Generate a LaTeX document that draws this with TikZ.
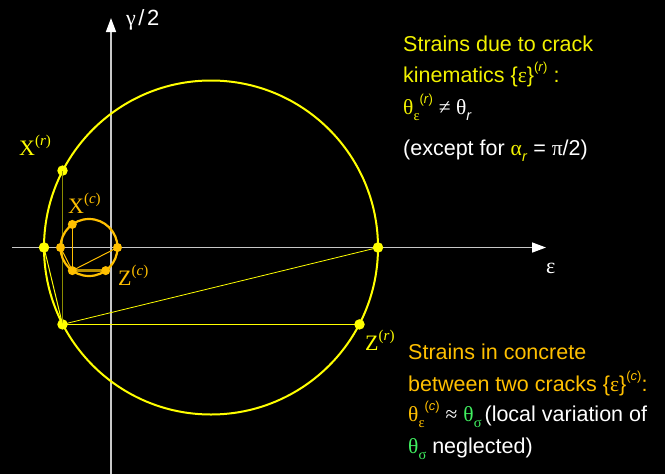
\documentclass[tikz,border=0pt]{standalone}
\usepackage{fontspec}
\setmainfont{Liberation Sans}
\newfontfamily\gr{Liberation Serif}
\usetikzlibrary{arrows.meta}
\definecolor{yel}{HTML}{FFFF00}
\definecolor{txtyel}{HTML}{F2F200}
\definecolor{org}{HTML}{FFC000}
\definecolor{dorg}{HTML}{B89000}
\definecolor{grn}{HTML}{40F060}
\definecolor{olv}{HTML}{8C8C00}
\definecolor{axgray}{HTML}{C8C8C8}
\newcommand{\hi}[1]{\raisebox{0.5em}{\fontsize{13}{13}\selectfont #1}}
\newcommand{\lo}[1]{\raisebox{-0.3em}{\fontsize{14.5}{14}\selectfont #1}}
\newcommand{\lhi}[1]{\raisebox{0.45em}{\fontsize{15}{15}\selectfont #1}}
\begin{document}
\begin{tikzpicture}[x=1pt,y=-1pt,
  txt/.style={anchor=base west,inner sep=0pt,font=\fontsize{21.5}{24}\selectfont},
  lbl/.style={anchor=base west,inner sep=0pt,font=\gr\fontsize{22}{24}\selectfont},
  axis/.style={axgray,line width=1.5pt,-{Triangle[length=14pt,width=10pt,color=white]}},
  bigdot/.style={circle,fill=yel,inner sep=0pt,minimum size=10.5pt},
  smalldot/.style={circle,fill=org,inner sep=0pt,minimum size=9pt},
]
\fill[black] (0,0) rectangle (665,474);
% axes
\coordinate (xs) at (12,247.5);
\coordinate (xe) at (546,247.5);
\coordinate (ys) at (111,474);
\coordinate (ye) at (111,18);
\draw[axis] (xs) -- (xe);
\draw[axis] (ys) -- (ye);
% big circle (cracks)
\coordinate (C) at (211,247.5);
\draw[yel,line width=2pt] (C) circle[radius=167pt];
\node[bigdot] (L) at (44,247.5) {};
\node[bigdot] (R) at (378,247.5) {};
\node[bigdot] (X) at (62.5,170.6) {};
\node[bigdot] (P) at (62.5,324.4) {};
\node[bigdot] (Z) at (359.5,324.4) {};
\draw[olv,line width=1.5pt] (P.center) -- (X.center);
\draw[yel,line width=1pt] (P.center) -- (Z.center);
\draw[yel,line width=0.8pt] (P.center) -- (R.center);
\draw[yel,line width=1pt] (P.center) -- (L.center);
% small circle (concrete)
\coordinate (c) at (89,247.5);
\draw[org,line width=2.2pt] (c) circle[radius=28.5pt];
\draw[dorg,line width=2.5pt] (72.3,270.6) coordinate (pc0) -- (105.7,270.6) coordinate (zc0);
\node[smalldot] (Lc) at (60.5,247.5) {};
\node[smalldot] (Rc) at (117.5,247.5) {};
\node[smalldot] (Xc) at (72.3,224.4) {};
\node[smalldot] (Pc) at (pc0) {};
\node[smalldot] (Zc) at (zc0) {};
\draw[org,line width=1.2pt] (Pc.center) -- (Xc.center);
\draw[org,line width=1pt] (Pc.center) -- (Rc.center);
\draw[org,line width=1pt] (Pc.center) -- (Lc.center);
% axis labels
\node[txt,white,font=\fontsize{22}{24}\selectfont] (gl) at (126,25) {{\gr γ}\kern2.5pt/\kern2.5pt2};
\node[lbl,white] (el) at (546,273) {ε};
% point labels
\node[lbl,yel] (Xl) at (19,155) {X\lhi{(\textit{r})}};
\node[lbl,org] (Xcl) at (68,213) {X\lhi{(\textit{c})}};
\node[lbl,org] (Zcl) at (118,285) {Z\lhi{(\textit{c})}};
\node[lbl,yel] (Zl) at (365,350) {Z\lhi{(\textit{r})}};
% top text
\node[txt,txtyel] (t1) at (403,51.5) {Strains due to crack};
\node[txt,txtyel] (t2) at (403,82.5) {kinematics \{{\gr ε}\}\hi{(\textit{r})} :};
\node[txt,white] (t3) at (403,114) {\textcolor{txtyel}{{\gr θ}\lo{\gr ε}\hi{(\textit{r})}} {\gr ≠ θ}\lo{\textit{r}}};
\node[txt,white] (t4) at (403,155) {(except for \textcolor{txtyel}{{\gr α}\lo{\textit{r}}} = {\gr π}/2)};
% bottom text
\node[txt,org] (b1) at (408,359.5) {Strains in concrete};
\node[txt,org] (b2) at (408,391.5) {between two cracks \{{\gr ε}\}\hi{(\textit{c})}:};
\node[txt,white] (b3) at (408,421.5) {\textcolor{org}{{\gr θ}\lo{\gr ε}\hi{(\textit{c})}} {\gr ≈} \textcolor{grn}{{\gr θ}\lo{\gr σ}}\kern3pt(local variation of};
\node[txt,white] (b4) at (408,453) {\textcolor{grn}{{\gr θ}\lo{\gr σ}} neglected)};
\end{tikzpicture}
\end{document}
